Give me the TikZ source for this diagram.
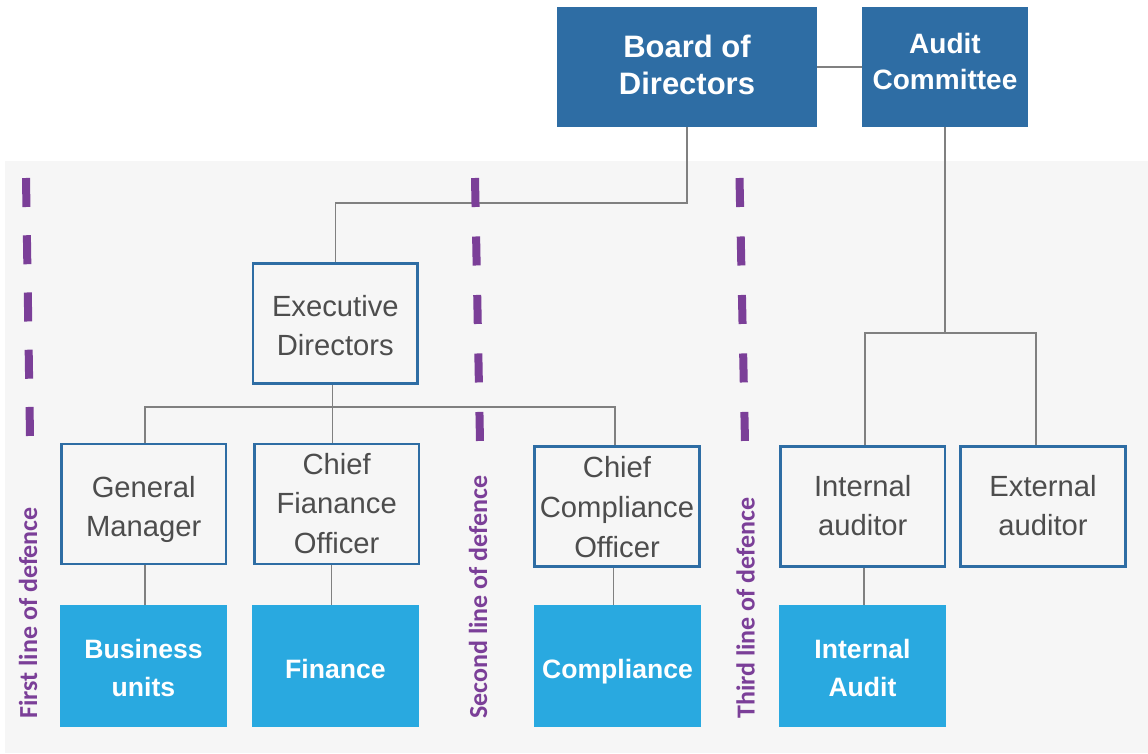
\documentclass[tikz,border=0pt]{standalone}
\usepackage{fontspec}
\setmainfont{Liberation Sans}
\newfontfamily\lblfont{Carlito}
\definecolor{dblue}{HTML}{2E6DA4}
\definecolor{lblue}{HTML}{29A9E0}
\definecolor{purp}{HTML}{7B3F98}
\definecolor{bggrey}{HTML}{F6F6F6}
\definecolor{txtgrey}{HTML}{4D4D4D}
\definecolor{lngrey}{HTML}{808080}
\newcommand\mybx[2]{\raisebox{#1}[\height][\depth]{\begin{tabular}{@{}c@{}}#2\end{tabular}}}
\begin{document}
\begin{tikzpicture}[x=1pt,y=-1pt,
 wbox/.style={draw=dblue, line width=2.5pt, fill=bggrey, text=txtgrey, inner sep=0pt,
   minimum width=164.8pt, minimum height=120pt, font=\fontsize{29.2}{39.3}\selectfont},
 dbox/.style={fill=dblue, text=white, inner sep=0pt, minimum height=120pt},
 lbox/.style={fill=lblue, text=white, inner sep=0pt, minimum width=167pt, minimum height=122pt,
   font=\bfseries\fontsize{26.6}{38.4}\selectfont},
 conn/.style={draw=lngrey, line width=1.5pt},
 defline/.style={draw=purp, line width=8pt},
 deflabel/.style={rotate=90, anchor=west, inner sep=0pt, text=purp, font=\lblfont\bfseries\fontsize{26}{30}\selectfont}
]
\useasboundingbox (0,0) rectangle (1148,754);
\fill[white] (0,0) rectangle (1148,754);
\fill[bggrey] (5,161) rectangle (1148,753);

% top boxes
\node[dbox, minimum width=260pt, font=\bfseries\fontsize{31}{37.5}\selectfont] (board) at (687,67) {\mybx{-1.5pt}{Board of\\Directors}};
\node[dbox, minimum width=166pt, font=\bfseries\fontsize{28}{36}\selectfont] (audit) at (945,67) {\mybx{2.9pt}{Audit\\Committee}};

% white boxes
\node[wbox] (exec) at (335.3,323.5) {\mybx{-4.9pt}{Executive\\Directors}};
\node[wbox] (gm) at (143.7,503.8) {\mybx{-5.2pt}{General\\Manager}};
\node[wbox, font=\fontsize{29.2}{39.7}\selectfont] (cfo) at (336.7,503.8) {\mybx{-2.2pt}{Chief\\Fianance\\Officer}};
\node[wbox, font=\fontsize{29.2}{40}\selectfont] (cco) at (617,506.5) {\mybx{-2.6pt}{Chief\\Compliance\\Officer}};
\node[wbox] (ia) at (862.75,506.5) {\mybx{-1.9pt}{Internal\\auditor}};
\node[wbox] (ea) at (1043,506.5) {\mybx{-1.9pt}{External\\auditor}};

% light blue boxes
\node[lbox] (bu) at (143.5,666) {\mybx{-3.7pt}{Business\\units}};
\node[lbox] (fin) at (335.5,666) {\mybx{-4.7pt}{Finance}};
\node[lbox] (comp) at (617.5,666) {\mybx{-4.7pt}{Compliance}};
\node[lbox] (iaud) at (862.5,666) {\mybx{-3.7pt}{Internal\\Audit}};

% connectors
\coordinate (bby) at (0,203);
\coordinate (ebus) at (0,407);
\coordinate (abus) at (0,333);
\coordinate (exdrop) at ([xshift=-3pt]exec.south);
\coordinate (gmdrop) at ([xshift=1.5pt]gm.north);
\coordinate (ccodrop) at ([xshift=-2pt]cco.north);
\coordinate (iadrop) at ([xshift=2pt]ia.north);
\coordinate (eadrop) at ([xshift=-7pt]ea.north);
\draw[conn] (board.east) -- (audit.west);
\draw[conn] (board.south) |- (bby -| exec.north) -- (exec.north);
\draw[conn] (exdrop) -- (exdrop |- cfo.north);
\draw[conn] (gmdrop) |- (ebus -| ccodrop) -- (ccodrop);
\draw[conn] (audit.south) -- (audit.south |- abus);
\draw[conn] (iadrop) |- (abus -| eadrop) -- (eadrop);
\draw[conn] ([xshift=1.5pt]gm.south) -- ([xshift=1.5pt]gm.south |- bu.north);
\draw[conn] ([xshift=-5pt]cfo.south) -- ([xshift=-5pt]cfo.south |- fin.north);
\draw[conn] ([xshift=-3.5pt]cco.south) -- ([xshift=-3.5pt]cco.south |- comp.north);
\draw[conn] ([xshift=1pt]ia.south) -- ([xshift=1pt]ia.south |- iaud.north);

% lines of defence
\draw[defline, dash pattern=on 29pt off 28.25pt] (26,178) -- (30,436);
\draw[defline, dash pattern=on 29pt off 29.5pt] (475,178) -- (480,442);
\draw[defline, dash pattern=on 29pt off 29.5pt] (739.5,178) -- (745,442);

\node[deflabel] (l1) at (28,719) {First line of defence};
\node[deflabel] (l2) at (478,719) {Second line of defence};
\node[deflabel] (l3) at (745.5,719) {Third line of defence};
\end{tikzpicture}
\end{document}
